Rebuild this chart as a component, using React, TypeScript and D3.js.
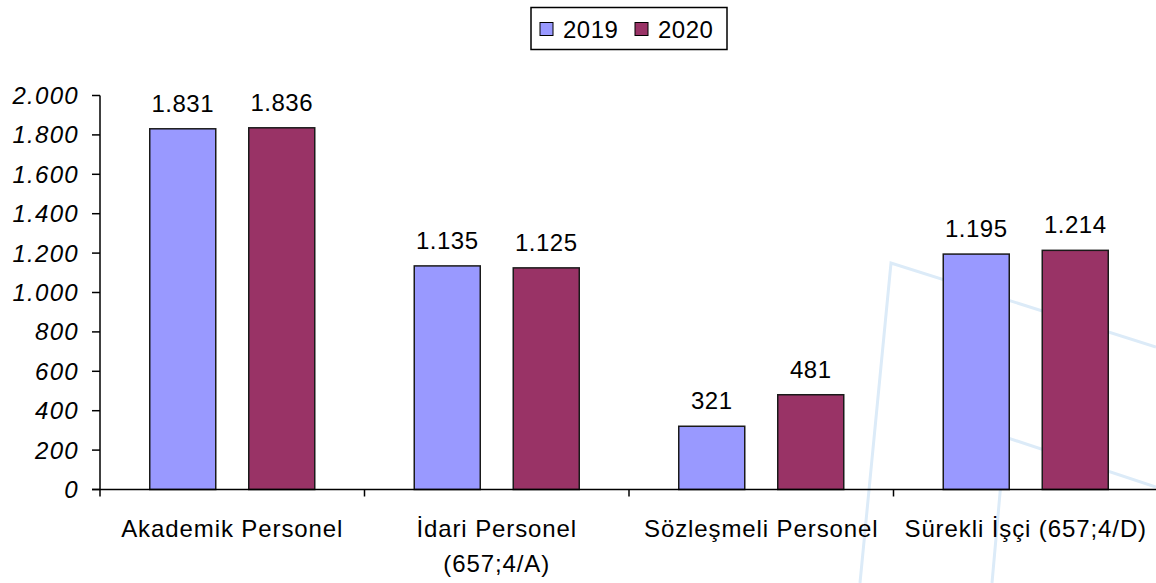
import * as d3 from "d3";

const categories = [
  ["Akademik Personel"],
  ["İdari Personel", "(657;4/A)"],
  ["Sözleşmeli Personel"],
  ["Sürekli İşçi (657;4/D)"],
];
const seriesNames = ["2019", "2020"];
const values2019 = [1831, 1135, 321, 1195];
const values2020 = [1836, 1125, 481, 1214];
const yTicks = [0, 200, 400, 600, 800, 1000, 1200, 1400, 1600, 1800, 2000];

const colors = ["#9999ff", "#993366"];
const font = "'Liberation Sans', Arial, sans-serif";

const fmt = (v: number) =>
  v >= 1000 ? `${Math.floor(v / 1000)}.${String(v % 1000).padStart(3, "0")}` : String(v);

const App = () => {
  const width = 1156;
  const height = 583;
  const left = 100;
  const bottom = 489.5;
  const top = 95.5;

  const x = d3
    .scaleBand<number>()
    .domain(d3.range(categories.length))
    .range([left, left + 264.5 * categories.length]);
  const y = d3.scaleLinear().domain([0, 2000]).range([bottom, top]);

  const barW = 66;
  const gap = 33;
  const series = [values2019, values2020];

  return (
    <svg
      width={width}
      height={height}
      style={{ position: "fixed", top: 0, left: 0, background: "#fff" }}
      fontFamily={font}
    >
      {/* watermark lines */}
      <g stroke="#dcebf8" strokeWidth={3} fill="none">
        <polyline points="860,583 891,263 1156,347" />
        <polyline points="992,583 1005,437 1156,487" />
      </g>

      {/* bars */}
      {series.map((vals, si) =>
        vals.map((v, i) => {
          const cx = (x(i) as number) + x.bandwidth() / 2;
          const x0 = cx - gap / 2 - barW + si * (barW + gap);
          return (
            <g key={`${si}-${i}`}>
              <rect
                x={x0}
                y={y(v)}
                width={barW}
                height={bottom - y(v)}
                fill={colors[si]}
                stroke="#1a1a1a"
                strokeWidth={1.5}
              />
              <text
                x={x0 + barW / 2}
                y={y(v) - 17}
                textAnchor="middle"
                fontSize={24}
                letterSpacing={0.5}
                fill="#000"
              >
                {fmt(v)}
              </text>
            </g>
          );
        })
      )}

      {/* y axis */}
      <line x1={left} x2={left} y1={top} y2={bottom} stroke="#000" strokeWidth={1.5} />
      {yTicks.map((t) => (
        <g key={t}>
          <line x1={left - 8} x2={left} y1={y(t)} y2={y(t)} stroke="#000" strokeWidth={1.5} />
          <text
            x={79}
            y={y(t) + 8.5}
            textAnchor="end"
            fontSize={24}
            letterSpacing={1.3}
            fontStyle="italic"
            fill="#000"
          >
            {fmt(t)}
          </text>
        </g>
      ))}

      {/* x axis */}
      <line x1={left - 8} x2={width} y1={bottom} y2={bottom} stroke="#000" strokeWidth={1.5} />
      {categories.map((_, i) => (
        <line
          key={i}
          x1={x(i) as number}
          x2={x(i) as number}
          y1={bottom}
          y2={bottom + 7}
          stroke="#000"
          strokeWidth={1.5}
        />
      ))}
      {categories.map((lines, i) => (
        <text
          key={i}
          x={(x(i) as number) + x.bandwidth() / 2}
          y={537}
          textAnchor="middle"
          fontSize={24}
          letterSpacing={0.9}
          fill="#000"
        >
          {lines.map((l, li) => (
            <tspan key={li} x={(x(i) as number) + x.bandwidth() / 2} dy={li === 0 ? 0 : 35}>
              {l}
            </tspan>
          ))}
        </text>
      ))}

      {/* legend */}
      <rect x={531} y={7.5} width={196} height={42} fill="#fff" stroke="#000" strokeWidth={1.5} />
      {seriesNames.map((n, i) => (
        <g key={n} transform={`translate(${540 + i * 95},0)`}>
          <rect x={0} y={22.5} width={13} height={13} fill={colors[i]} stroke="#000" strokeWidth={1} />
          <text x={23} y={37.5} fontSize={24} letterSpacing={0.5} fill="#000">
            {n}
          </text>
        </g>
      ))}
    </svg>
  );
};

export default App;
